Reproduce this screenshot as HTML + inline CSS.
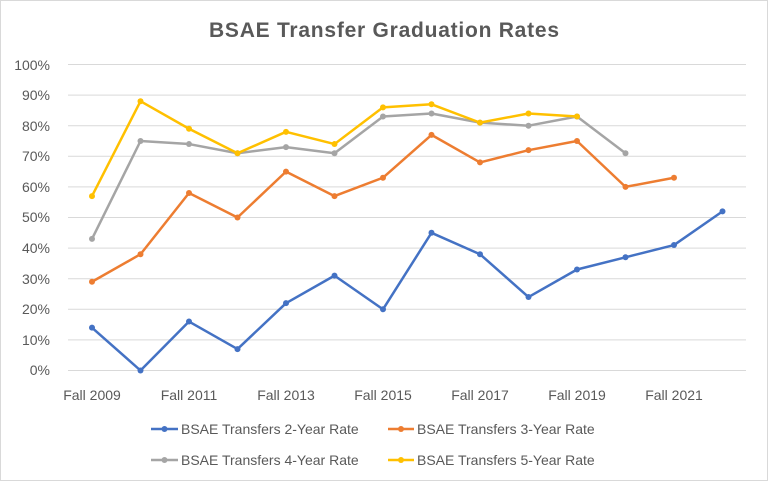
<!DOCTYPE html>
<html><head><meta charset="utf-8"><style>
html,body{margin:0;padding:0;background:#fff}
svg{display:block}
text{font-family:"Liberation Sans",sans-serif;fill:#595959}
</style></head><body>
<svg width="768" height="481" viewBox="0 0 768 481" xmlns="http://www.w3.org/2000/svg">
<rect x="0.5" y="0.5" width="767" height="480" fill="#fff" stroke="#d9d9d9"/>
<text x="384" y="37" text-anchor="middle" font-size="21" font-weight="bold" textLength="350">BSAE Transfer Graduation Rates</text>
<g stroke="#d9d9d9" stroke-width="1">
<line x1="68" x2="746" y1="64.5" y2="64.5"/><line x1="68" x2="746" y1="95.1" y2="95.1"/>
<line x1="68" x2="746" y1="125.7" y2="125.7"/><line x1="68" x2="746" y1="156.3" y2="156.3"/>
<line x1="68" x2="746" y1="186.9" y2="186.9"/><line x1="68" x2="746" y1="217.5" y2="217.5"/>
<line x1="68" x2="746" y1="248.1" y2="248.1"/><line x1="68" x2="746" y1="278.7" y2="278.7"/>
<line x1="68" x2="746" y1="309.3" y2="309.3"/><line x1="68" x2="746" y1="339.9" y2="339.9"/>
<line x1="68" x2="746" y1="370.5" y2="370.5"/>
</g>
<g font-size="14" text-anchor="end">
<text x="50" y="70">100%</text><text x="50" y="100">90%</text><text x="50" y="131">80%</text>
<text x="50" y="161">70%</text><text x="50" y="192">60%</text><text x="50" y="222">50%</text>
<text x="50" y="253">40%</text><text x="50" y="284">30%</text><text x="50" y="314">20%</text>
<text x="50" y="345">10%</text><text x="50" y="375">0%</text>
</g>
<g font-size="14" text-anchor="middle">
<text x="92" y="400">Fall 2009</text><text x="189" y="400">Fall 2011</text><text x="286" y="400">Fall 2013</text>
<text x="383" y="400">Fall 2015</text><text x="480" y="400">Fall 2017</text><text x="577" y="400">Fall 2019</text>
<text x="674" y="400">Fall 2021</text>
</g>
<g id="series" fill="none" stroke-width="2.5" stroke-linejoin="round"></g>
<g font-size="14">
<line x1="151" x2="178" y1="429" y2="429" stroke="#4472c4" stroke-width="2.5"/><circle cx="164.5" cy="429" r="3" fill="#4472c4"/>
<text x="181" y="434">BSAE Transfers 2-Year Rate</text>
<line x1="388" x2="414" y1="429" y2="429" stroke="#ed7d31" stroke-width="2.5"/><circle cx="401" cy="429" r="3" fill="#ed7d31"/>
<text x="417" y="434">BSAE Transfers 3-Year Rate</text>
<line x1="151" x2="178" y1="460" y2="460" stroke="#a5a5a5" stroke-width="2.5"/><circle cx="164.5" cy="460" r="3" fill="#a5a5a5"/>
<text x="181" y="465">BSAE Transfers 4-Year Rate</text>
<line x1="388" x2="414" y1="460" y2="460" stroke="#ffc000" stroke-width="2.5"/><circle cx="401" cy="460" r="3" fill="#ffc000"/>
<text x="417" y="465">BSAE Transfers 5-Year Rate</text>
</g>
</svg>
<script>
var S=[["#4472c4",[14,0,16,7,22,31,20,45,38,24,33,37,41,52]],
["#ed7d31",[29,38,58,50,65,57,63,77,68,72,75,60,63]],
["#a5a5a5",[43,75,74,71,73,71,83,84,81,80,83,71]],
["#ffc000",[57,88,79,71,78,74,86,87,81,84,83]]];
var g=document.getElementById("series"),ns="http://www.w3.org/2000/svg";
S.forEach(function(s){var pts=s[1].map(function(v,i){return [92+i*48.5,370.5-v*3.06];});
var p=document.createElementNS(ns,"polyline");p.setAttribute("points",pts.map(function(a){return a.join(",")}).join(" "));
p.setAttribute("stroke",s[0]);g.appendChild(p);
pts.forEach(function(a){var c=document.createElementNS(ns,"circle");c.setAttribute("cx",a[0]);c.setAttribute("cy",a[1]);c.setAttribute("r",3);c.setAttribute("fill",s[0]);c.setAttribute("stroke","none");g.appendChild(c);});});
</script>
</body></html>
